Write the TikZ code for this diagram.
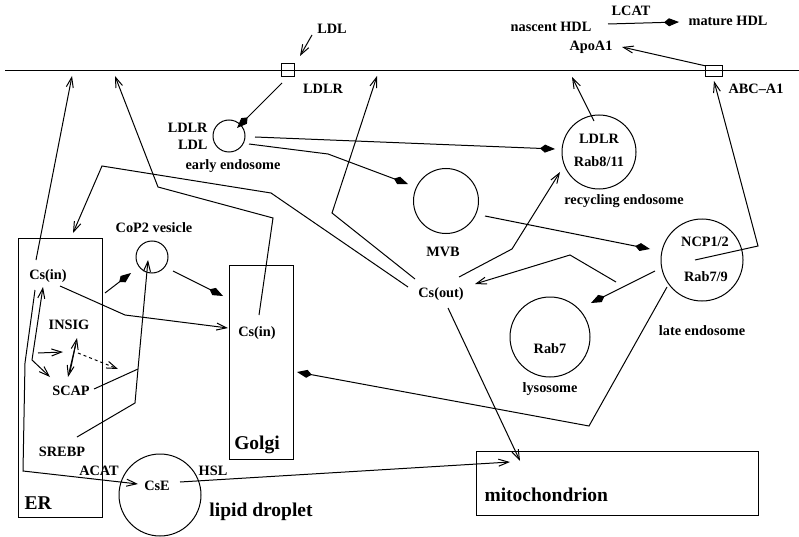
\documentclass[tikz,border=0pt]{standalone}
\usepackage{fontspec}
\setmainfont{Liberation Serif}
\usetikzlibrary{arrows.meta}
\newcommand{\lbfont}{\fontsize{14.3}{16}\selectfont\bfseries}
\newcommand{\bgfont}{\fontsize{19.5}{22}\selectfont\bfseries}
\tikzset{
 lbl/.style={font=\lbfont, inner sep=0pt},
 big/.style={font=\bgfont, inner sep=0pt},
 circ/.style={draw, circle, inner sep=0pt},
 box/.style={draw, inner sep=0pt},
 op/.style={-{Straight Barb[length=10pt,width=7pt]}},
 opb/.style={{Straight Barb[length=10pt,width=7pt]}-{Straight Barb[length=10pt,width=7pt]}},
 fk/.style={-{Kite[length=15pt,width=8pt,inset=5pt]}},
}
\begin{document}
\begin{tikzpicture}[x=1pt,y=-1pt,line width=1pt]
\useasboundingbox (0,0) rectangle (799,537);
% membrane
\coordinate (mL) at (5,71); \coordinate (mR) at (799,71);
\draw (mL) -- (mR);
\node[box, minimum width=13, minimum height=13] (sq1) at (288,70) {};
\node[box, minimum width=17, minimum height=11] (sq2) at (714,71) {};
% labels top
\node[lbl] (tLDL) at (332,29) {LDL};
\node[lbl] (tLDLRm) at (323,89) {LDLR};
\node[lbl] (tnas) at (551,27) {nascent HDL};
\node[lbl] (tlcat) at (631,11) {LCAT};
\node[lbl] (tmat) at (728,21) {mature HDL};
\node[lbl] (tapo) at (591,47) {ApoA1};
\node[lbl] (tabc) at (756,89) {ABC--A1};
% early endosome
\node[circ, minimum size=32] (ee) at (229,136) {};
\node[lbl, anchor=east] (tLDLRe) at (208,128) {LDLR};
\node[lbl, anchor=east] (tLDLe) at (208,145) {LDL};
\node[lbl] (tee) at (233,166) {early endosome};
% recycling endosome
\node[circ, minimum size=74] (re) at (599,152) {};
\node[lbl] (tre1) at (599,139) {LDLR};
\node[lbl] (tre2) at (599,162) {Rab8/11};
\node[lbl] (tre) at (624,201) {recycling endosome};
% MVB
\node[circ, minimum size=65] (mvb) at (446,201) {};
\node[lbl] (tmvb) at (443,252) {MVB};
% late endosome
\node[circ, minimum size=82] (le) at (702,260) {};
\node[lbl] (tle1) at (705,242) {NCP1/2};
\node[lbl] (tle2) at (706,277) {Rab7/9};
\node[lbl] (tle) at (702,331) {late endosome};
% lysosome
\node[circ, minimum size=80] (ly) at (550,337) {};
\node[lbl] (tly1) at (550,349) {Rab7};
\node[lbl] (tly) at (550,389) {lysosome};
% Cs(out)
\node[lbl] (csout) at (441,294) {Cs(out)};
% ER
\node[box, minimum width=84, minimum height=279] (er) at (60,377.5) {};
\node[lbl] (csin1) at (48,276) {Cs(in)};
\node[lbl] (insig) at (69,325) {INSIG};
\node[lbl] (scap) at (71,391) {SCAP};
\node[lbl] (srebp) at (62,452) {SREBP};
\node[big, anchor=west] (ter) at (24,503) {ER};
% CoP2
\node[circ, minimum size=32] (cop) at (152,257) {};
\node[lbl] (tcop) at (154,228) {CoP2 vesicle};
% Golgi
\node[box, minimum width=64, minimum height=194] (golgi) at (261,362) {};
\node[lbl] (csin2) at (257,333) {Cs(in)};
\node[big] (tgolgi) at (257,445) {Golgi};
% lipid droplet
\node[circ, minimum size=82] (ld) at (160,495) {};
\node[lbl] (cse) at (157,486) {CsE};
\node[lbl] (tacat) at (99,471) {ACAT};
\node[lbl] (thsl) at (213,471) {HSL};
\node[big] (tld) at (261,512) {lipid droplet};
% mitochondrion
\node[box, minimum width=282, minimum height=64] (mito) at (617,483) {};
\node[big, anchor=west] (tmito) at (484,495) {mitochondrion};

% coordinates for connectors
\coordinate (a1s) at (312,35); \coordinate (a1e) at (300,56);
\coordinate (a2s) at (282,83); \coordinate (a2e) at (237,128);
\coordinate (a3s) at (255,137); \coordinate (a3e) at (555,149);
\coordinate (a4s) at (249,144); \coordinate (a4b) at (328,154); \coordinate (a4e) at (408,184);
\coordinate (a5s) at (594,121); \coordinate (a5e) at (572,77);
\coordinate (a6s) at (608,24); \coordinate (a6e) at (679,22);
\coordinate (a7s) at (706,66); \coordinate (a7e) at (622,47);
\coordinate (a8s) at (695,260); \coordinate (a8b) at (758,246); \coordinate (a8e) at (714,81);
\coordinate (a9s) at (485,216); \coordinate (a9e) at (650,249);
\coordinate (a10s) at (655,271); \coordinate (a10e) at (591,303);
\coordinate (a11s) at (667,287); \coordinate (a11b) at (589,426); \coordinate (a11e) at (297,372);
\coordinate (a12s) at (616,282); \coordinate (a12b) at (570,255); \coordinate (a12e) at (475,284);
\coordinate (a13s) at (459,277); \coordinate (a13b) at (512,249); \coordinate (a13e) at (560,172);
\coordinate (a14s) at (448,308); \coordinate (a14e) at (520,461);
\coordinate (a15s) at (415,279); \coordinate (a15b) at (332,213); \coordinate (a15e) at (377,76);
\coordinate (a16s) at (408,287); \coordinate (a16b) at (271,193); \coordinate (a16c) at (102,166); \coordinate (a16e) at (73,233);
\coordinate (a17s) at (259,315); \coordinate (a17b) at (273,218); \coordinate (a17c) at (158,187); \coordinate (a17e) at (115,76);
\coordinate (a18s) at (36,260); \coordinate (a18e) at (72,76);
\coordinate (a19s) at (105,293); \coordinate (a19e) at (131,273);
\coordinate (a20s) at (173,271); \coordinate (a20e) at (223,296);
\coordinate (a21s) at (60,286); \coordinate (a21b) at (125,315); \coordinate (a21e) at (228,328);
\coordinate (a22s) at (77,437); \coordinate (a22b) at (135,403); \coordinate (a22c) at (138,369); \coordinate (a22e) at (148,260);
\coordinate (a23s) at (94,389);
\coordinate (a24s) at (35,290); \coordinate (a24b) at (25,363); \coordinate (a24c) at (23,471); \coordinate (a24e) at (138,484);
\coordinate (a25s) at (43,287); \coordinate (a25b) at (32,360); \coordinate (a25e) at (50,377);
\coordinate (a26s) at (38,353); \coordinate (a26e) at (63,352);
\coordinate (a27s) at (70,372); \coordinate (a27e) at (77,338);
\coordinate (a28s) at (76,343); \coordinate (a28e) at (68,377);
\coordinate (a29s) at (78,353); \coordinate (a29e) at (118,369);
\coordinate (a30s) at (180,482); \coordinate (a30e) at (510,462);

\draw[op] (a1s) -- (a1e);
\draw[fk] (a2s) -- (a2e);
\draw[fk] (a3s) -- (a3e);
\draw[fk] (a4s) -- (a4b) -- (a4e);
\draw[op] (a5s) -- (a5e);
\draw[fk] (a6s) -- (a6e);
\draw[op] (a7s) -- (a7e);
\draw[op] (a8s) -- (a8b) -- (a8e);
\draw[fk] (a9s) -- (a9e);
\draw[fk] (a10s) -- (a10e);
\draw[fk] (a11s) -- (a11b) -- (a11e);
\draw[op] (a12s) -- (a12b) -- (a12e);
\draw[op] (a13s) -- (a13b) -- (a13e);
\draw[op] (a14s) -- (a14e);
\draw[op] (a15s) -- (a15b) -- (a15e);
\draw[op] (a16s) -- (a16b) -- (a16c) -- (a16e);
\draw[op] (a17s) -- (a17b) -- (a17c) -- (a17e);
\draw[op] (a18s) -- (a18e);
\draw[fk] (a19s) -- (a19e);
\draw[fk] (a20s) -- (a20e);
\draw[op] (a21s) -- (a21b) -- (a21e);
\draw[op] (a22s) -- (a22b) -- (a22c) -- (a22e);
\draw (a23s) -- (a22c);
\draw[op] (a24s) -- (a24b) -- (a24c) -- (a24e);
\draw[opb] (a25s) -- (a25b) -- (a25e);
\draw[op] (a26s) -- (a26e);
\draw[op] (a27s) -- (a27e);
\draw[op] (a28s) -- (a28e);
\draw[op, dashed] (a29s) -- (a29e);
\draw[op] (a30s) -- (a30e);
\end{tikzpicture}
\end{document}
